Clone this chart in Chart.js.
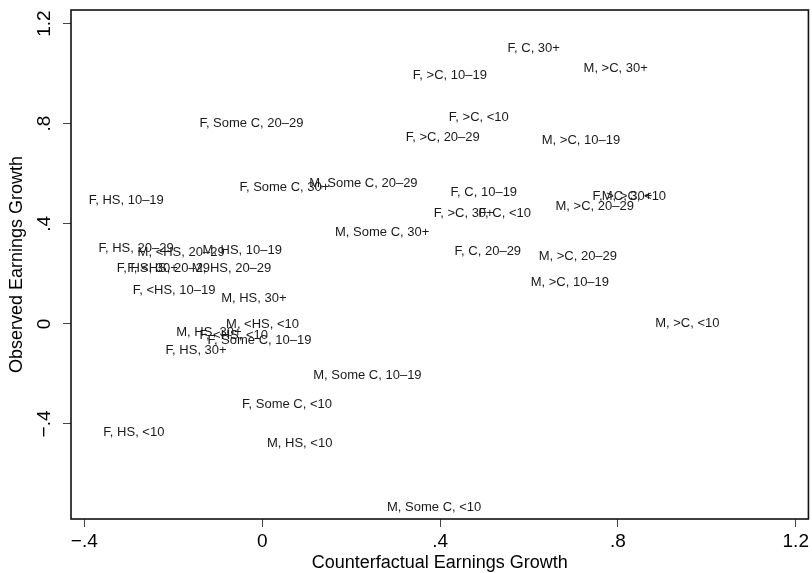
<!DOCTYPE html>
<html>
<head>
<meta charset="utf-8">
<script src="https://cdn.jsdelivr.net/npm/chart.js@4/dist/chart.umd.min.js"></script>
<style>
  html, body { margin: 0; padding: 0; background: #fff; }
  #wrap { width: 812px; height: 573px; }
</style>
</head>
<body>
<div id="wrap"><canvas id="c" width="812" height="573"></canvas></div>
<script>
// Group labels: sex, education, years of experience
const groupLabels = [
  "F, C, 30+", "M, >C, 30+", "F, >C, 10–19", "F, >C, <10", "F, Some C, 20–29",
  "F, >C, 20–29", "M, >C, 10–19", "F, Some C, 30+", "M, Some C, 20–29", "F, C, 10–19",
  "F, HS, 10–19", "F, >C, 30+", "F, C, <10", "M, Some C, 30+", "F, C, 20–29",
  "M, >C, 20–29", "F, >C, 30+", "M, >C, <10", "M, >C, 20–29", "M, >C, 10–19",
  "F, HS, 20–29", "M, <HS, 20–29", "M, HS, 10–19", "F, HS, 30+", "F, <HS, 20–29",
  "M, HS, 20–29", "F, <HS, 10–19", "M, HS, 30+", "M, <HS, <10", "M, HS, 30+",
  "F, <HS, <10", "F, Some C, 10–19", "F, HS, 30+", "M, Some C, 10–19", "F, Some C, <10",
  "F, HS, <10", "M, HS, <10", "M, Some C, <10", "M, >C, <10"
];
// Counterfactual earnings growth
const counterfactualGrowth = [
  0.545, 0.716, 0.332, 0.413, -0.148,
  0.316, 0.622, -0.058, 0.099, 0.417,
  -0.397, 0.379, 0.480, 0.157, 0.426,
  0.653, 0.736, 0.757, 0.615, 0.597,
  -0.375, -0.287, -0.141, -0.334, -0.310,
  -0.165, -0.298, -0.099, -0.088, -0.200,
  -0.148, -0.130, -0.224, 0.108, -0.052,
  -0.364, 0.004, 0.274, 0.877
];
// Observed earnings growth
const observedGrowth = [
  1.102, 1.022, 0.994, 0.823, 0.799,
  0.743, 0.731, 0.547, 0.563, 0.527,
  0.495, 0.443, 0.443, 0.367, 0.291,
  0.471, 0.511, 0.511, 0.271, 0.167,
  0.303, 0.287, 0.295, 0.223, 0.223,
  0.223, 0.135, 0.103, -0.004, -0.036,
  -0.048, -0.068, -0.108, -0.204, -0.320,
  -0.432, -0.476, -0.732, 0.000
];
const xTickValues = [-0.4, 0, 0.4, 0.8, 1.2];
const yTickValues = [-0.4, 0, 0.4, 0.8, 1.2];
const tickText = {"-0.4": "−.4", "0": "0", "0.4": ".4", "0.8": ".8", "1.2": "1.2"};

const FONT = "'Liberation Sans', Arial, Helvetica, sans-serif";
const fmt = v => tickText[String(Math.round(v * 10) / 10)] ?? String(v);

const points = counterfactualGrowth.map((x, i) => ({x, y: observedGrowth[i]}));

// Box around the plot region, rotated y tick labels, and the marker labels
const decorations = {
  id: 'decorations',
  afterDatasetsDraw(chart) {
    const {ctx, chartArea: a} = chart;
    ctx.save();
    // marker labels (markers themselves are hidden)
    ctx.font = '13px ' + FONT;
    ctx.fillStyle = '#1a1a1a';
    ctx.textAlign = 'left';
    ctx.textBaseline = 'middle';
    chart.getDatasetMeta(0).data.forEach((el, i) => {
      ctx.fillText(groupLabels[i], el.x + 3, el.y);
    });
    // plot frame
    ctx.strokeStyle = '#111';
    ctx.lineWidth = 1.6;
    ctx.strokeRect(a.left, a.top, a.right - a.left, a.bottom - a.top);
    // rotated y tick labels
    const ys = chart.scales.y;
    ctx.font = '19px ' + FONT;
    ctx.fillStyle = '#000';
    ctx.textAlign = 'center';
    ctx.textBaseline = 'middle';
    yTickValues.forEach(v => {
      const py = ys.getPixelForValue(v);
      ctx.save();
      ctx.translate(45, py);
      ctx.rotate(-Math.PI / 2);
      ctx.fillText(fmt(v), 0, 0);
      ctx.restore();
    });
    ctx.restore();
  }
};

new Chart(document.getElementById('c'), {
  type: 'scatter',
  data: {
    datasets: [{
      data: points,
      pointRadius: 0,
      pointHoverRadius: 0,
      showLine: false
    }]
  },
  options: {
    responsive: false,
    animation: false,
    devicePixelRatio: 1,
    layout: { padding: { left: 0, top: 10, right: 2, bottom: 0 } },
    plugins: { legend: { display: false }, tooltip: { enabled: false } },
    scales: {
      x: {
        type: 'linear',
        min: -0.430,
        max: 1.2285,
        afterBuildTicks: s => { s.ticks = xTickValues.map(value => ({value})); },
        afterFit: s => { s.height = 54; },
        border: { display: false },
        grid: { drawOnChartArea: false, drawTicks: true, tickLength: 8, color: '#444', lineWidth: 1 },
        ticks: {
          callback: v => fmt(v),
          font: { family: FONT, size: 19 },
          color: '#000',
          padding: 3,
          maxRotation: 0,
          minRotation: 0
        },
        title: {
          display: true,
          text: 'Counterfactual Earnings Growth',
          font: { family: FONT, size: 18, lineHeight: 1 },
          color: '#000',
          padding: { top: 0, bottom: 1 }
        }
      },
      y: {
        type: 'linear',
        min: -0.7796,
        max: 1.254,
        afterBuildTicks: s => { s.ticks = yTickValues.map(value => ({value})); },
        afterFit: s => { s.width = 71; },
        border: { display: false },
        grid: { drawOnChartArea: false, drawTicks: true, tickLength: 8, color: '#444', lineWidth: 1 },
        ticks: { display: false },
        title: {
          display: true,
          text: 'Observed Earnings Growth',
          font: { family: FONT, size: 18, lineHeight: 1 },
          color: '#000',
          padding: { top: 8, bottom: 0 }
        }
      }
    }
  },
  plugins: [decorations]
});
</script>
</body>
</html>
